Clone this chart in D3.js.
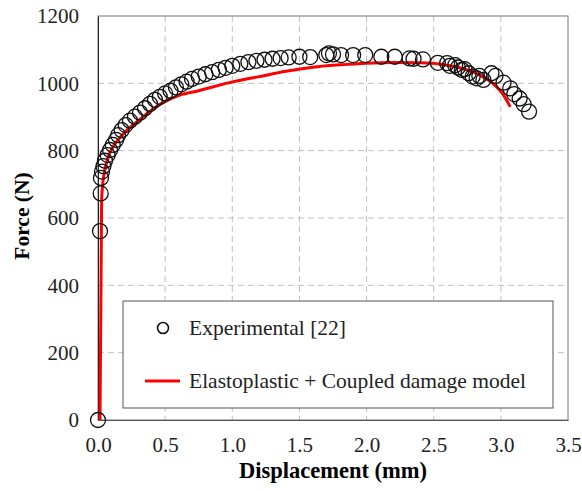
<!DOCTYPE html>
<html>
<head>
<meta charset="utf-8">
<script src="https://cdn.jsdelivr.net/npm/d3@7"></script>
<style>
  body { margin: 0; background: #fff; }
</style>
</head>
<body>
<div id="chart"></div>
<script>
// experimental points (displacement mm, force N)
let expDisp = [0.0, 0.015, 0.02, 0.022, 0.03, 0.04, 0.052, 0.072, 0.09, 0.11, 0.134, 0.15, 0.176, 0.206,
  0.238, 0.275, 0.313, 0.35, 0.387, 0.424, 0.46, 0.5, 0.54, 0.58, 0.62, 0.66, 0.7, 0.75, 0.8, 0.85,
  0.9, 0.95, 1.0, 1.06, 1.12, 1.18, 1.24, 1.3, 1.36, 1.42, 1.5, 1.58, 1.7, 1.72, 1.75, 1.81, 1.9,
  1.99, 2.11, 2.21, 2.32, 2.35, 2.42, 2.53, 2.6, 2.62, 2.66, 2.68, 2.71, 2.73, 2.76, 2.79, 2.82,
  2.84, 2.87, 2.93, 2.96, 3.02, 3.07, 3.1, 3.14, 3.17, 3.21]
let expForce = [0, 561, 673, 719, 738, 754, 770, 787, 802, 817, 832, 846, 861, 876,
  889, 901, 913, 926, 939, 951, 960, 970, 978, 988, 997, 1005, 1013, 1020, 1027, 1033,
  1040, 1046, 1052, 1058, 1063, 1067, 1070, 1073, 1075, 1077, 1079, 1078, 1084, 1089, 1086, 1084, 1084,
  1084, 1079, 1079, 1074, 1073, 1071, 1061, 1060, 1052, 1054, 1047, 1040, 1042, 1030, 1020, 1015,
  1022, 1010, 1030, 1022, 1002, 985, 968, 955, 938, 916]

// model curve
let modelDisp = [0.015, 0.027, 0.035, 0.05, 0.077, 0.11, 0.15, 0.2, 0.275, 0.35, 0.4, 0.52, 0.61,
  0.75, 0.86, 1.01, 1.2, 1.4, 1.6, 1.8, 2.0, 2.2, 2.4, 2.55, 2.65, 2.75, 2.84, 2.94, 3.02, 3.07]
let modelForce = [0, 650, 700, 740, 782, 810, 832, 855, 881, 905, 921, 950, 965,
  978, 990, 1005, 1020, 1036, 1048, 1055, 1060, 1062, 1061, 1057, 1050, 1040, 1025, 1000, 965, 930]

let xTicks = [0, 0.5, 1, 1.5, 2, 2.5, 3, 3.5]
let yTicks = [0, 200, 400, 600, 800, 1000, 1200]
let legendLabels = ['Experimental [22]', 'Elastoplastic + Coupled damage model']

let margin = { top: 16, left: 98, right: 14, bottom: 71 }
let width = 582 - margin.left - margin.right
let height = 491 - margin.top - margin.bottom
let serif = 'Liberation Serif'

let svg = d3
  .select('#chart')
  .append('svg')
  .attr('width', 582)
  .attr('height', 491)
  .append('g')
  .attr('transform', 'translate(' + margin.left + ',' + margin.top + ')')

let x = d3.scaleLinear().domain([0, 3.5]).range([0, width])
let y = d3.scaleLinear().domain([0, 1200]).range([height, 0])

// grid
svg.append('g')
  .selectAll('line')
  .data(xTicks.slice(1, -1))
  .enter()
  .append('line')
  .attr('x1', d => x(d)).attr('x2', d => x(d))
  .attr('y1', 0).attr('y2', height)
  .attr('stroke', '#c0c0c0')
  .attr('stroke-dasharray', '6,4')

svg.append('g')
  .selectAll('line')
  .data(yTicks.slice(1, -1))
  .enter()
  .append('line')
  .attr('y1', d => y(d)).attr('y2', d => y(d))
  .attr('x1', 0).attr('x2', width)
  .attr('stroke', '#c0c0c0')
  .attr('stroke-dasharray', '6,4')

// frame
svg.append('rect')
  .attr('width', width)
  .attr('height', height)
  .attr('fill', 'none')
  .attr('stroke', '#777')
  .attr('stroke-width', 1)

// axes
let xAxis = svg.append('g')
  .attr('transform', 'translate(0,' + height + ')')
  .call(d3.axisBottom(x).tickValues(xTicks).tickFormat(d3.format('.1f')).tickSize(0).tickPadding(17))
xAxis.select('.domain').attr('stroke', '#555')
xAxis.selectAll('text')
  .style('font-family', serif)
  .style('font-size', '21px')
  .attr('fill', '#222')

let yAxis = svg.append('g')
  .call(d3.axisLeft(y).tickValues(yTicks).tickFormat(d3.format('d')).tickSize(0).tickPadding(19))
yAxis.select('.domain').attr('stroke', '#222')
yAxis.selectAll('text')
  .style('font-family', serif)
  .style('font-size', '21px')
  .attr('fill', '#222')

// titles
svg.append('text')
  .attr('x', width / 2)
  .attr('y', height + 58)
  .attr('text-anchor', 'middle')
  .style('font-family', serif)
  .style('font-size', '22.5px')
  .style('font-weight', 'bold')
  .text('Displacement (mm)')

svg.append('text')
  .attr('transform', 'translate(' + (-69) + ',' + (height / 2 - 2) + ') rotate(-90)')
  .attr('text-anchor', 'middle')
  .style('font-family', serif)
  .style('font-size', '21.5px')
  .style('font-weight', 'bold')
  .text('Force (N)')

// legend
let legend = svg.append('g').attr('transform', 'translate(25,285)')
legend.append('rect')
  .attr('width', 430)
  .attr('height', 107)
  .attr('fill', '#fff')
  .attr('stroke', '#555')
legend.append('circle')
  .attr('cx', 40).attr('cy', 27).attr('r', 5.5)
  .attr('fill', 'none').attr('stroke', '#111').attr('stroke-width', 1.6)
legend.append('line')
  .attr('x1', 22).attr('x2', 57).attr('y1', 80).attr('y2', 80)
  .attr('stroke', '#ff0000').attr('stroke-width', 3)
legend.selectAll('.lab')
  .data(legendLabels)
  .enter()
  .append('text')
  .attr('class', 'lab')
  .attr('x', 66)
  .attr('y', (d, i) => 34 + i * 53)
  .style('font-family', serif)
  .style('font-size', '21.5px')
  .attr('fill', '#222')
  .text(d => d)

// model line
let modelPts = modelDisp.map((d, i) => ({ d: d, f: modelForce[i] }))
svg.append('path')
  .datum(modelPts)
  .attr('fill', 'none')
  .attr('stroke', '#ff0000')
  .attr('stroke-width', 3)
  .attr('d', d3.line().x(p => x(p.d)).y(p => y(p.f)).curve(d3.curveMonotoneX))

// experimental circles
let expPts = expDisp.map((d, i) => ({ d: d, f: expForce[i] }))
svg.selectAll('.exp')
  .data(expPts)
  .enter()
  .append('circle')
  .attr('class', 'exp')
  .attr('cx', p => x(p.d))
  .attr('cy', p => y(p.f))
  .attr('r', 7.5)
  .attr('fill', 'none')
  .attr('stroke', '#111')
  .attr('stroke-width', 1.3)
</script>
</body>
</html>
